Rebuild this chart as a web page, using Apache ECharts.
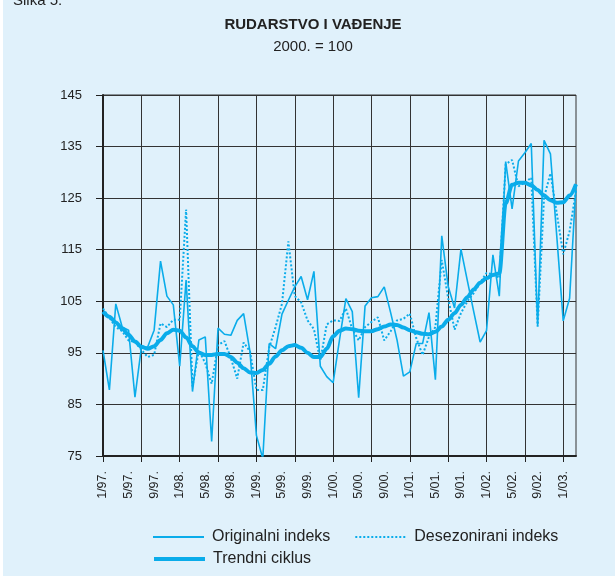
<!DOCTYPE html>
<html>
<head>
<meta charset="utf-8">
<script src="https://cdn.jsdelivr.net/npm/echarts@6/dist/echarts.min.js"></script>
<style>
html,body{margin:0;padding:0;background:#E0F1FB;}
#chart{width:615px;height:576px;}
</style>
</head>
<body>
<div id="chart"></div>
<script>
var months = [
 '1/97.','2/97.','3/97.','4/97.','5/97.','6/97.','7/97.','8/97.','9/97.','10/97.','11/97.','12/97.',
 '1/98.','2/98.','3/98.','4/98.','5/98.','6/98.','7/98.','8/98.','9/98.','10/98.','11/98.','12/98.',
 '1/99.','2/99.','3/99.','4/99.','5/99.','6/99.','7/99.','8/99.','9/99.','10/99.','11/99.','12/99.',
 '1/00.','2/00.','3/00.','4/00.','5/00.','6/00.','7/00.','8/00.','9/00.','10/00.','11/00.','12/00.',
 '1/01.','2/01.','3/01.','4/01.','5/01.','6/01.','7/01.','8/01.','9/01.','10/01.','11/01.','12/01.',
 '1/02.','2/02.','3/02.','4/02.','5/02.','6/02.','7/02.','8/02.','9/02.','10/02.','11/02.','12/02.',
 '1/03.','2/03.','3/03.'
];

var originalni = [
 95.5, 87.8, 104.5, 100.0, 99.4, 86.4, 96.0, 96.2, 99.4, 112.8, 106.0, 104.3,
 92.4, 109.1, 87.5, 97.5, 98.1, 77.8, 99.8, 98.6, 98.4, 101.3, 102.6, 95.2,
 79.0, 74.5, 96.8, 95.8, 102.5, 105.2, 107.8, 109.8, 105.3, 110.8, 92.4, 90.4,
 89.2, 97.5, 105.5, 103.0, 86.3, 104.1, 105.7, 105.9, 107.8, 102.8, 97.5, 90.5,
 91.3, 96.8, 96.8, 102.8, 89.8, 117.7, 107.9, 103.7, 115.1, 109.0, 103.0, 97.1,
 99.3, 114.0, 106.0, 132.1, 122.9, 132.2, 133.8, 135.6, 100.1, 136.2, 133.6, 117.5,
 101.2, 105.6, 127.7
];

var desezonirani = [
 103.6, 101.8, 100.0, 99.2, 97.4, 97.1, 95.6, 94.2, 94.6, 100.7, 100.0, 101.4,
 101.4, 122.8, 88.5, 95.5, 93.0, 89.0, 96.5, 97.3, 94.0, 90.0, 97.0, 95.3,
 87.8, 87.8, 96.0, 100.0, 104.5, 116.6, 106.0, 104.8, 101.3, 99.6, 93.5, 100.5,
 101.3, 101.2, 103.6, 99.6, 97.4, 100.0, 101.0, 101.9, 97.4, 99.2, 101.3, 101.6,
 102.6, 97.9, 94.6, 98.1, 100.0, 113.0, 105.6, 99.5, 102.7, 105.0, 106.6, 108.6,
 110.5, 110.2, 109.5, 131.6, 132.4, 127.3, 128.0, 129.0, 100.1, 125.1, 129.8, 122.0,
 114.1, 118.6, 126.4
];

var trendni = [
 103.0, 102.0, 100.9, 99.7, 98.5, 97.2, 96.2, 95.8, 96.3, 97.5, 98.8, 99.5,
 99.3, 98.0, 96.3, 95.0, 94.6, 94.6, 94.8, 94.8, 94.2, 93.1, 92.0, 91.2,
 91.1, 91.7, 92.9, 94.3, 95.5, 96.3, 96.5, 96.0, 95.0, 94.2, 94.2, 95.8,
 98.2, 99.3, 99.7, 99.6, 99.3, 99.2, 99.2, 99.6, 100.1, 100.5, 100.4, 99.9,
 99.4, 99.0, 98.7, 98.6, 99.1, 100.1, 101.4, 102.7, 104.3, 105.8, 107.3, 108.6,
 109.5, 110.1, 110.4, 124.0, 127.6, 128.0, 128.0, 127.5, 126.6, 125.5, 124.6, 124.1,
 124.2, 125.5, 127.7
];

var yTicks = { min: 75, max: 145, step: 10 };
var seriesNames = ['Originalni indeks', 'Desezonirani indeks', 'Trendni ciklus'];

var FONT = "'Liberation Sans', Arial, Helvetica, sans-serif";
var BLUE = '#0AACEA';
var INK = '#222222';

var chart = echarts.init(document.getElementById('chart'), null, { renderer: 'canvas' });
chart.setOption({
  backgroundColor: '#E0F1FB',
  animation: false,
  textStyle: { fontFamily: FONT },
  graphic: [
    { type: 'rect', shape: { x: 0, y: 0, width: 3, height: 576 }, style: { fill: '#ffffff' } },
    { type: 'text', x: 13, y: 1, style: { text: 'Slika 5.', font: '15px ' + FONT, fill: INK, textAlign: 'left', textVerticalAlign: 'middle' } },
    { type: 'text', x: 313, y: 25, style: { text: 'RUDARSTVO I VAĐENJE', font: 'bold 15px ' + FONT, fill: INK, textAlign: 'center', textVerticalAlign: 'middle' } },
    { type: 'text', x: 313, y: 47, style: { text: '2000. = 100', font: '15px ' + FONT, fill: INK, textAlign: 'center', textVerticalAlign: 'middle' } }
  ],
  legend: [
    {
      data: [seriesNames[0], seriesNames[1]],
      left: 147, top: 524, itemWidth: 51, itemHeight: 14, itemGap: 24,
      itemStyle: { opacity: 0 },
      lineStyle: { width: 2 },
      textStyle: { fontSize: 16, color: INK, fontFamily: FONT, padding: [0, 0, 0, 3] },
      selectedMode: false
    },
    {
      data: [seriesNames[2]],
      left: 147, top: 546, itemWidth: 51, itemHeight: 14,
      itemStyle: { opacity: 0 },
      lineStyle: { width: 4 },
      textStyle: { fontSize: 16, color: INK, fontFamily: FONT, padding: [0, 0, 0, 3] },
      selectedMode: false
    }
  ],
  grid: {
    left: 103, right: 39, top: 95, bottom: 120,
    show: true, borderColor: '#333333', borderWidth: 1
  },
  xAxis: {
    type: 'category',
    data: months,
    boundaryGap: false,
    axisLine: { show: true, onZero: false, lineStyle: { color: INK, width: 2 } },
    axisTick: { show: true, interval: 5, length: 6, lineStyle: { color: INK, width: 1 } },
    axisLabel: { interval: 3, rotate: 90, margin: 15, fontSize: 12.5, color: INK, fontFamily: FONT },
    splitLine: { show: true, interval: 5, lineStyle: { color: '#333333', width: 1 } }
  },
  yAxis: {
    type: 'value',
    min: yTicks.min, max: yTicks.max, interval: yTicks.step,
    axisLine: { show: true, lineStyle: { color: INK, width: 2 } },
    axisTick: { show: true, length: 7, lineStyle: { color: INK, width: 1 } },
    axisLabel: { margin: 21, fontSize: 13, color: INK, fontFamily: FONT },
    splitLine: { show: true, lineStyle: { color: '#333333', width: 1 } }
  },
  series: [
    {
      name: seriesNames[0], type: 'line', data: originalni,
      symbol: 'none', lineStyle: { color: BLUE, width: 1.6 }, itemStyle: { color: BLUE }, z: 3
    },
    {
      name: seriesNames[1], type: 'line', data: desezonirani,
      symbol: 'none', lineStyle: { color: BLUE, width: 2, type: [2, 2] }, itemStyle: { color: BLUE }, z: 4
    },
    {
      name: seriesNames[2], type: 'line', data: trendni,
      symbol: 'none', smooth: 0.3, smoothMonotone: 'x',
      lineStyle: { color: BLUE, width: 4 }, itemStyle: { color: BLUE }, z: 5
    }
  ]
});
</script>
</body>
</html>
